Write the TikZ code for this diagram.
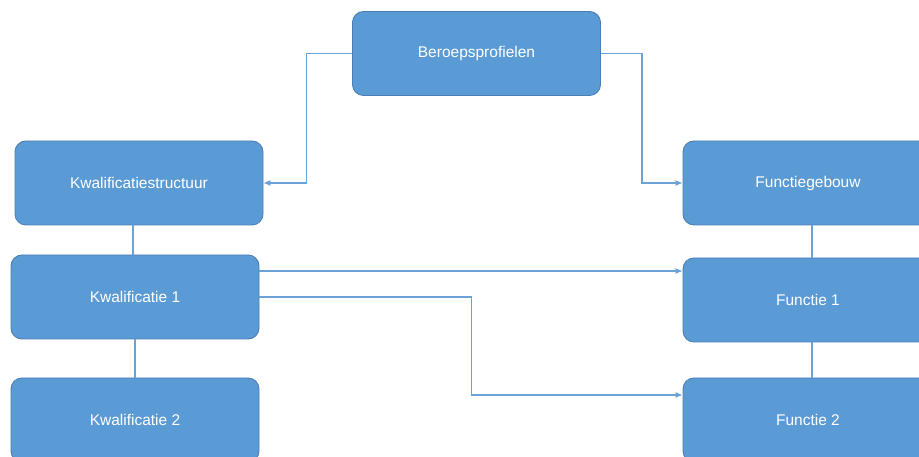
\documentclass[tikz,border=0pt]{standalone}
\usepackage{fontspec}
\setmainfont{Liberation Sans}
\usepackage{tikz}
\usetikzlibrary{arrows.meta}
\definecolor{boxblue}{HTML}{5B9BD5}
\definecolor{boxedge}{HTML}{4A7FB5}
\definecolor{linkblue}{HTML}{6AA3D8}

\begin{document}
\begin{tikzpicture}
  [x=1pt,y=1pt,->,>={Latex[length=7pt,width=6pt]},
   every node/.style={rectangle,rounded corners=11pt,draw=boxedge,line width=0.9pt,
     fill=boxblue,text=white,font=\fontsize{15.5}{17}\selectfont,
     minimum width=248pt,minimum height=84pt,inner sep=0pt},
   link/.style={draw=linkblue,line width=1.1pt}]
  \clip (0,0) rectangle (919,457);
  \node (nb) at (476.5,403.5) {Beroepsprofielen};
  \node (nks) at (139,274) {Kwalificatiestructuur};
  \node (nk1) at (135,160) {Kwalificatie 1};
  \node (nk2) at (135,37) {Kwalificatie 2};
  \node[minimum width=250pt] (nfg) at (808,274) {Functiegebouw};
  \node[minimum width=250pt] (nf1) at (808,157) {Functie 1};
  \node[minimum width=250pt] (nf2) at (808,37) {Functie 2};

  \path[link] (nb.west) -- ++(-46,0) |- (nks.east);
  \path[link] (nb.east) -- ++(41,0) |- (nfg.west);
  \path[link,-] ([xshift=-2pt]nk1.north) -- ([xshift=-2pt]nk1.north |- nks.south);
  \path[link,-] (nk1.south) -- (nk2.north);
  \path[link,-] ([xshift=4pt]nfg.south) -- ([xshift=4pt]nf1.north);
  \path[link,-] ([xshift=4pt]nf1.south) -- ([xshift=4pt]nf2.north);
  \path[link] ([yshift=26pt]nk1.east) -- ([yshift=26pt]nk1.east -| nf1.west);
  \path[link] (nk1.east) -- ++(212,0) |- ([yshift=25pt]nf2.west);

\end{tikzpicture}
\end{document}
